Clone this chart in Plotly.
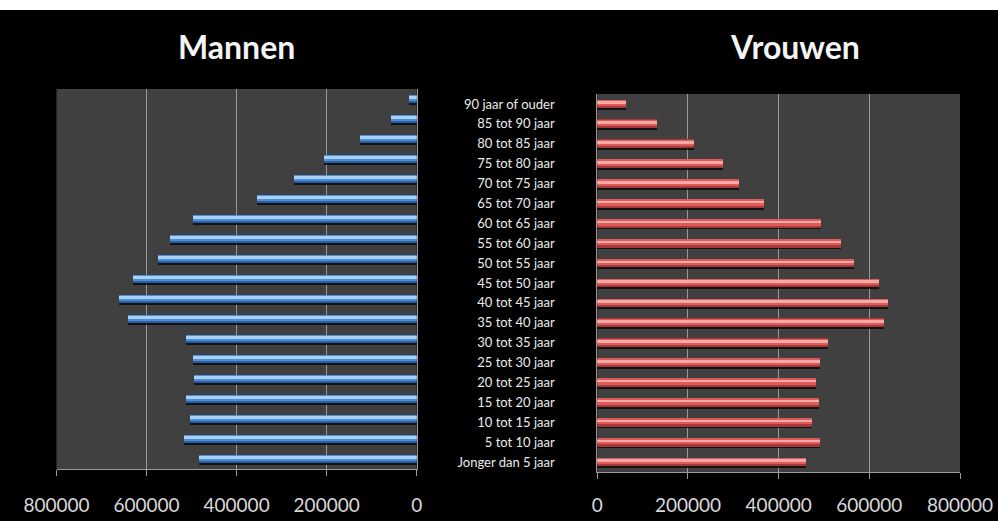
import plotly.graph_objects as go

# Age groups, youngest first (drawn bottom to top)
age_groups = [
    "Jonger dan 5 jaar", "5 tot 10 jaar", "10 tot 15 jaar", "15 tot 20 jaar",
    "20 tot 25 jaar", "25 tot 30 jaar", "30 tot 35 jaar", "35 tot 40 jaar",
    "40 tot 45 jaar", "45 tot 50 jaar", "50 tot 55 jaar", "55 tot 60 jaar",
    "60 tot 65 jaar", "65 tot 70 jaar", "70 tot 75 jaar", "75 tot 80 jaar",
    "80 tot 85 jaar", "85 tot 90 jaar", "90 jaar of ouder",
]

mannen = [
    484000, 519000, 504000, 513000, 495000, 498000, 513000, 643000,
    663000, 632000, 576000, 550000, 499000, 355000, 274000, 206000,
    127000, 58000, 19000,
]

vrouwen = [
    460000, 491000, 475000, 489000, 482000, 491000, 510000, 632000,
    642000, 621000, 567000, 538000, 495000, 368000, 313000, 278000,
    215000, 132000, 65000,
]

axis_ticks = [0, 200000, 400000, 600000, 800000]

W, H = 998, 521
FONT = "Lato"
positions = list(range(len(age_groups)))


def px_x(a, b):
    return [a / W, b / W]


def px_y(top, bottom):
    return [(H - bottom) / H, (H - top) / H]


fig = go.Figure()


def add_cylinder(values, xa, ya, shadow, dark, base, light):
    # layered bars give a rounded, shaded look
    layers = [
        (shadow, 0.52, -0.31),
        (dark, 0.44, -0.22),
        (base, 0.32, -0.11),
        (light, 0.13, 0.00),
    ]
    for color, width, offset in layers:
        fig.add_trace(go.Bar(
            x=values, y=positions, orientation="h",
            width=width, offset=offset,
            marker=dict(color=color, line=dict(width=0)),
            xaxis=xa, yaxis=ya, showlegend=False, hoverinfo="skip",
        ))


add_cylinder(mannen, "x", "y", "rgba(10,10,10,0.85)", "#2c5d9c", "#4d8fdc", "#a9d0f7")
add_cylinder(vrouwen, "x2", "y2", "rgba(10,10,10,0.85)", "#a8393a", "#e05a5a", "#f6aaa8")

grid = "#9a9a9a"
tick_font = dict(family=FONT, size=19, color="#d9d9d9")

fig.update_layout(
    width=W, height=H,
    margin=dict(l=0, r=0, t=0, b=0, pad=0),
    paper_bgcolor="black",
    plot_bgcolor="#404040",
    barmode="overlay",
    bargap=0,
    xaxis=dict(
        domain=px_x(56.5, 416.7), anchor="y", automargin=False,
        range=[800000, 0], tickvals=axis_ticks,
        tickformat="d", showgrid=True, gridcolor=grid, gridwidth=1,
        zeroline=False, showline=True, linecolor=grid, linewidth=1,
        ticks="outside", ticklen=6, tickcolor=grid,
        tickfont=tick_font, ticklabelstandoff=13,
    ),
    yaxis=dict(
        domain=px_y(89, 469), anchor="x", automargin=False,
        range=[-0.5, len(age_groups) - 0.5],
        showgrid=False, zeroline=False, showticklabels=False,
        side="right", showline=True, linecolor=grid, linewidth=1, ticks="",
    ),
    xaxis2=dict(
        domain=px_x(597.3, 960), anchor="y2", automargin=False,
        range=[0, 800000], tickvals=axis_ticks,
        tickformat="d", showgrid=True, gridcolor=grid, gridwidth=1,
        zeroline=False, showline=True, linecolor=grid, linewidth=1,
        ticks="outside", ticklen=6, tickcolor=grid,
        tickfont=tick_font, ticklabelstandoff=10,
    ),
    yaxis2=dict(
        domain=px_y(94, 472), anchor="x2", automargin=False,
        range=[-0.5, len(age_groups) - 0.5],
        tickvals=positions, ticktext=age_groups,
        tickfont=dict(family=FONT, size=13, color="#ececec"),
        ticklabelstandoff=39, ticks="",
        showgrid=False, zeroline=False,
        showline=True, linecolor=grid, linewidth=1,
    ),
    annotations=[
        dict(text="<b>Mannen</b>", x=236 / W, y=(H - 47) / H,
             xref="paper", yref="paper", showarrow=False,
             xanchor="center", yanchor="middle",
             font=dict(family=FONT, size=32, color="#f4f4f4")),
        dict(text="<b>Vrouwen</b>", x=795 / W, y=(H - 47) / H,
             xref="paper", yref="paper", showarrow=False,
             xanchor="center", yanchor="middle",
             font=dict(family=FONT, size=32, color="#f4f4f4")),
    ],
    shapes=[
        dict(type="rect", xref="paper", yref="paper",
             x0=0, x1=1, y0=(H - 10) / H, y1=1,
             fillcolor="white", line=dict(width=0), layer="above"),
    ],
)

fig.write_html("out.html")
